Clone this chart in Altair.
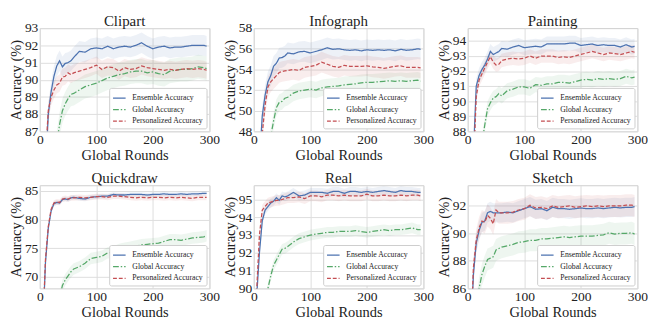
import altair as alt
import pandas as pd

rounds = [5, 10, 15, 20, 25, 30, 35, 40, 45, 50, 55, 60, 70, 80, 90, 100, 110, 120,
          130, 140, 150, 160, 170, 180, 190, 200, 210, 220, 230, 240, 250, 260, 270,
          280, 290, 295]

series_names = ["Ensemble Accuracy", "Global Accuracy", "Personalized Accuracy"]
colors = ["#4c72b0", "#55a868", "#c44e52"]
dashes = [[1, 0], [6, 2, 1.5, 2], [4, 2]]
x_ticks = [0, 50, 100, 150, 200, 250, 300]

panel_names = ["Clipart", "Infograph", "Painting", "Quickdraw", "Real", "Sketch"]

clipart_ens = [78, 84.5, 88.0, 89.3, 90.2, 90.8, 91.1, 90.75, 90.95, 91.0, 91.1, 91.3, 91.65, 91.6, 91.8, 91.85, 91.8, 91.95, 91.8, 91.9, 91.95, 91.9, 92.0, 92.15, 91.95, 91.8, 91.9, 91.95, 91.85, 91.9, 91.9, 91.95, 92.0, 92.0, 92.0, 91.95]
clipart_glo = [70, 75, 79, 82, 84.5, 86.3, 87.4, 88.2, 88.6, 88.9, 89.15, 89.2, 89.4, 89.6, 89.7, 89.8, 89.95, 90.1, 90.2, 90.3, 90.35, 90.45, 90.5, 90.5, 90.4, 90.45, 90.35, 90.3, 90.5, 90.55, 90.6, 90.6, 90.65, 90.75, 90.7, 90.65]
clipart_per = [80, 85.5, 88.2, 89.0, 89.4, 89.7, 89.8, 90.15, 90.2, 90.4, 90.3, 90.4, 90.5, 90.6, 90.7, 90.85, 90.6, 90.75, 90.7, 90.5, 90.7, 90.6, 90.65, 90.8, 90.7, 90.65, 90.6, 90.55, 90.6, 90.55, 90.6, 90.65, 90.6, 90.65, 90.6, 90.55]

info_ens = [38, 45, 49.5, 51.5, 52.8, 53.4, 54.3, 54.6, 55.1, 55.15, 55.3, 55.6, 55.5, 55.7, 55.75, 55.6, 55.75, 55.9, 56.1, 55.95, 56.0, 55.9, 55.85, 55.9, 55.8, 55.9, 55.85, 55.9, 55.85, 55.9, 55.8, 55.95, 55.85, 55.9, 56.0, 55.95]
info_glo = [30, 35, 39, 42.5, 45.5, 47.5, 49.0, 50.3, 50.8, 50.9, 51.2, 51.3, 51.7, 51.9, 52.0, 52.1, 52.0, 52.2, 52.3, 52.35, 52.4, 52.5, 52.55, 52.6, 52.7, 52.75, 52.75, 52.8, 52.85, 52.9, 52.85, 52.9, 52.85, 52.9, 52.95, 52.85]
info_per = [36, 43, 47.8, 50.5, 52.3, 52.8, 53.1, 53.4, 53.7, 53.8, 53.85, 53.9, 54.0, 53.9, 54.2, 54.3, 54.4, 54.7, 54.5, 54.3, 54.2, 54.4, 54.3, 54.3, 54.3, 54.35, 54.25, 54.2, 54.1, 54.2, 54.3, 54.35, 54.2, 54.2, 54.2, 54.15]

paint_ens = [80, 86.5, 91.0, 91.7, 92.1, 92.4, 92.8, 93.3, 93.1, 93.2, 93.3, 93.5, 93.45, 93.6, 93.7, 93.55, 93.6, 93.65, 93.6, 93.8, 93.8, 93.8, 93.8, 93.85, 93.85, 93.7, 93.75, 93.8, 93.7, 93.75, 93.7, 93.7, 93.6, 93.75, 93.6, 93.65]
paint_glo = [75, 80, 83.5, 85.5, 87.2, 88.4, 89.5, 89.9, 90.2, 90.3, 90.5, 90.35, 90.7, 90.8, 90.95, 90.95, 90.85, 91.1, 91.05, 91.15, 91.15, 91.25, 91.25, 91.2, 91.3, 91.4, 91.45, 91.4, 91.5, 91.45, 91.5, 91.45, 91.5, 91.65, 91.55, 91.6]
paint_per = [79, 85.5, 90.3, 91.4, 91.8, 92.2, 92.6, 92.95, 92.6, 92.4, 92.45, 92.7, 92.8, 92.85, 92.8, 92.85, 93.0, 92.85, 93.0, 93.0, 93.0, 92.9, 92.95, 92.9, 93.0, 93.1, 93.2, 93.3, 93.2, 93.1, 93.2, 93.15, 93.1, 93.2, 93.3, 93.25]

quick_ens = [60, 72.5, 78.5, 81.5, 82.8, 83.0, 82.9, 83.5, 83.6, 83.5, 83.8, 83.9, 83.7, 83.6, 83.9, 84.0, 84.1, 84.1, 84.4, 84.3, 84.3, 84.4, 84.4, 84.4, 84.3, 84.4, 84.4, 84.5, 84.4, 84.4, 84.5, 84.4, 84.5, 84.5, 84.6, 84.6]
quick_glo = [45, 50, 54, 57.5, 61, 64, 66.5, 68.5, 69.5, 70.2, 70.9, 71.4, 71.8, 72.4, 73.2, 73.4, 73.6, 74.2, 74.3, 74.8, 75.0, 75.2, 75.4, 75.6, 75.7, 75.8, 75.9, 76.2, 76.5, 76.5, 76.4, 76.6, 76.8, 76.9, 77.0, 77.2]
quick_per = [60.5, 73, 78.8, 81.8, 82.9, 83.1, 83.0, 83.6, 83.7, 83.6, 83.8, 83.8, 83.9, 83.8, 83.9, 84.0, 84.0, 83.9, 84.1, 84.1, 84.0, 83.9, 83.8, 83.9, 83.8, 83.9, 83.9, 83.8, 83.9, 83.8, 83.9, 83.8, 83.7, 83.9, 83.9, 83.9]

real_ens = [89.5, 92.0, 93.8, 94.4, 94.6, 94.8, 94.9, 95.1, 94.95, 95.2, 95.15, 95.2, 95.4, 95.2, 95.25, 95.4, 95.4, 95.4, 95.35, 95.45, 95.45, 95.35, 95.45, 95.45, 95.4, 95.45, 95.4, 95.45, 95.5, 95.45, 95.4, 95.5, 95.45, 95.45, 95.4, 95.4]
real_glo = [84, 86, 87.6, 88.9, 90.0, 90.7, 91.3, 91.6, 91.9, 92.2, 92.25, 92.35, 92.6, 92.8, 92.9, 93.0, 93.05, 93.1, 93.15, 93.15, 93.2, 93.2, 93.2, 93.25, 93.2, 93.15, 93.2, 93.25, 93.3, 93.25, 93.3, 93.3, 93.35, 93.4, 93.3, 93.3]
real_per = [89.8, 93.0, 94.4, 94.6, 94.8, 94.85, 94.9, 94.95, 94.95, 95.0, 95.05, 95.1, 95.1, 95.15, 95.05, 95.2, 95.2, 95.15, 95.25, 95.25, 95.2, 95.25, 95.2, 95.2, 95.2, 95.3, 95.2, 95.2, 95.25, 95.2, 95.2, 95.25, 95.2, 95.25, 95.25, 95.2]

sketch_ens = [82, 87.0, 89.3, 90.2, 90.8, 90.9, 91.5, 91.6, 91.5, 91.5, 91.5, 91.5, 91.55, 91.5, 91.65, 91.8, 91.95, 91.75, 91.8, 91.65, 91.9, 91.8, 91.8, 91.75, 91.8, 91.85, 91.8, 91.8, 91.85, 91.8, 91.85, 91.9, 91.85, 91.9, 91.9, 91.95]
sketch_glo = [80, 82.5, 84.5, 86.0, 87.0, 87.6, 88.1, 88.2, 88.3, 88.8, 88.9, 89.0, 89.1, 89.2, 89.35, 89.4, 89.5, 89.5, 89.6, 89.6, 89.65, 89.7, 89.75, 89.7, 89.75, 89.8, 89.8, 89.8, 89.85, 89.9, 90.05, 89.95, 90.0, 90.0, 90.05, 89.95]
sketch_per = [82.5, 87.5, 89.5, 90.4, 90.9, 90.8, 91.3, 91.1, 90.7, 91.7, 91.5, 91.5, 91.5, 91.55, 91.7, 91.8, 92.05, 91.85, 91.9, 91.8, 92.0, 91.9, 91.95, 92.0, 91.9, 91.95, 92.0, 91.95, 92.0, 91.95, 92.0, 92.0, 92.0, 92.05, 92.05, 92.0]

# half-widths of the shaded bands (ensemble, global, personalized)
spreads = [
    [0.6, 0.7, 0.5],
    [1.0, 0.8, 1.0],
    [0.5, 0.5, 0.45],
    [0.4, 1.0, 0.5],
    [0.25, 0.3, 0.3],
    [0.7, 0.8, 0.8],
]
y_domains = [[87, 93], [48, 58], [88, 94.85], [68, 86], [90, 95.8], [86, 93.5]]
y_ticks = [
    [87, 88, 89, 90, 91, 92, 93],
    [48, 50, 52, 54, 56, 58],
    [88, 89, 90, 91, 92, 93, 94],
    [70, 75, 80, 85],
    [90, 91, 92, 93, 94, 95],
    [86, 88, 90, 92],
]
panel_series = [
    (clipart_ens, clipart_glo, clipart_per),
    (info_ens, info_glo, info_per),
    (paint_ens, paint_glo, paint_per),
    (quick_ens, quick_glo, quick_per),
    (real_ens, real_glo, real_per),
    (sketch_ens, sketch_glo, sketch_per),
]

FONT = "Liberation Serif"
TXT = "#222222"


def make_legend():
    return alt.Legend(
        title=None, orient="bottom-right", offset=3, padding=3,
        fillColor="white", strokeColor="#cccccc", cornerRadius=2,
        labelFont=FONT, labelFontSize=8, labelColor=TXT,
        symbolType="stroke", symbolSize=170, symbolStrokeWidth=1.3,
        symbolOpacity=1, rowPadding=0, labelLimit=300, labelOffset=6,
    )


def make_axis(vals, title):
    return alt.Axis(
        values=vals, title=title, grid=True, gridColor="#dddddd",
        domain=False, ticks=False, labelFont=FONT, titleFont=FONT,
        labelFontSize=14, titleFontSize=15, labelColor=TXT, titleColor=TXT,
        labelFontWeight="normal", titleFontWeight="normal",
        labelPadding=2, titlePadding=1, labelFlush=False, labelOverlap=False,
    )


def panel(i):
    rows = []
    for s, vals, sp in zip(series_names, panel_series[i], spreads[i]):
        for r, v in zip(rounds, vals):
            rows.append({"round": r, "acc": v, "series": s, "lo": v - sp, "hi": v + sp})
    df = pd.DataFrame(rows)
    xs = alt.Scale(domain=[0, 300], nice=False)
    ys = alt.Scale(domain=y_domains[i], nice=False, zero=False)
    cs = alt.Scale(domain=series_names, range=colors)
    base = alt.Chart(df)
    line = base.mark_line(clip=True, strokeWidth=1.3).encode(
        x=alt.X("round:Q", scale=xs, axis=make_axis(x_ticks, "Global Rounds")),
        y=alt.Y("acc:Q", scale=ys, axis=make_axis(y_ticks[i], "Accuracy (%)")),
        color=alt.Color("series:N", scale=cs, legend=make_legend()),
        strokeDash=alt.StrokeDash("series:N",
                                  scale=alt.Scale(domain=series_names, range=dashes),
                                  legend=make_legend()),
    )
    band = base.mark_area(clip=True, opacity=0.1).encode(
        x=alt.X("round:Q", scale=xs, axis=make_axis(x_ticks, "Global Rounds")),
        y=alt.Y("lo:Q", scale=ys, axis=make_axis(y_ticks[i], "Accuracy (%)")),
        y2="hi:Q",
        color=alt.Color("series:N", scale=cs, legend=make_legend()),
    )
    head = alt.Chart(pd.DataFrame({"name": [panel_names[i]]})).mark_text(
        font=FONT, fontSize=15.5, fontWeight="normal", color=TXT,
        baseline="alphabetic", align="center",
    ).encode(
        x=alt.datum(150, scale=xs), y=alt.value(-2), text="name:N"
    )
    return alt.layer(band, line, head).properties(width=176, height=107)


def row(idx):
    return alt.hconcat(*[panel(i) for i in idx], spacing=2).resolve_scale(
        color="independent", strokeDash="independent"
    ).resolve_legend(color="independent", strokeDash="independent")


chart = alt.vconcat(row([0, 1, 2]), row([3, 4, 5]), spacing=8).resolve_scale(
    color="independent", strokeDash="independent"
).resolve_legend(color="independent", strokeDash="independent").properties(
    padding={"top": 0, "left": 0, "right": 0, "bottom": -3}, background="white"
).configure_view(
    stroke="#cccccc", strokeWidth=1
)

chart.save("out.html", embed_options={"renderer": "svg", "actions": False})
